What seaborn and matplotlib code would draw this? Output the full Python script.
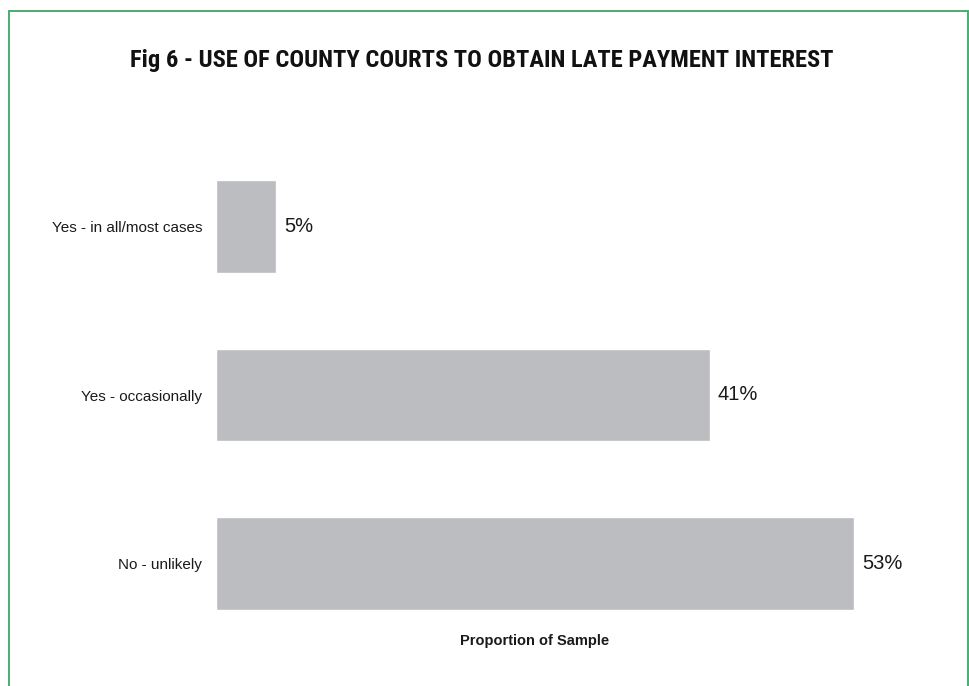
import matplotlib
matplotlib.use("Agg")
import matplotlib.pyplot as plt
from matplotlib.patches import Rectangle
from matplotlib import font_manager
import seaborn as sns
import pandas as pd

categories = ["Yes - in all/most cases", "Yes - occasionally", "No - unlikely"]
values = [5, 41, 53]
value_labels = ["5%", "41%", "53%"]

title = "Fig 6 - USE OF COUNTY COURTS TO OBTAIN LATE PAYMENT INTEREST"
x_label = "Proportion of Sample"

sns.set_theme(style="white")
plt.rcParams["font.family"] = ["Liberation Sans", "DejaVu Sans"]

names = {f.name for f in font_manager.fontManager.ttflist}
title_family = "Liberation Sans"
for cand in ["Roboto Condensed", "Liberation Sans Narrow", "Open Sans Condensed", "Roboto"]:
    if cand in names:
        title_family = cand
        break

df = pd.DataFrame({"category": categories, "value": values})

W, H = 970, 686
fig = plt.figure(figsize=(W / 100, H / 100), dpi=100)
ax = fig.add_axes([216 / W, 1 - 620 / H, (854 - 216) / W, (620 - 170) / H])

sns.barplot(data=df, x="value", y="category", orient="h", color="#bcbdc1",
            saturation=1, width=0.55, ax=ax)

ax.set_xlim(0, 53)
ax.set_ylim(2.335, -0.335)
ax.set_xticks([])
ax.tick_params(axis="y", length=0, pad=10, labelsize=11, labelcolor="#1a1a1a")
ax.set_ylabel("")
ax.set_xlabel(x_label, fontsize=10.5, fontweight="bold", color="#1a1a1a", labelpad=10)
for s in ax.spines.values():
    s.set_visible(False)

ax.bar_label(ax.containers[0], labels=value_labels, padding=6, fontsize=14.5, color="#1a1a1a")

# title sized so that it spans the heading band width
t = fig.text(481.5 / W, 1 - 60 / H, title, ha="center", va="center", fontsize=20,
             fontweight="bold", family=[title_family, "DejaVu Sans"], color="#111111")
fig.canvas.draw()
w = t.get_window_extent(fig.canvas.get_renderer()).width
t.set_fontsize(20 * 703 / w)

border = Rectangle((9.5 / W, -0.05), (968 - 9.5) / W, 1.05 - 10.5 / H,
                   transform=fig.transFigure, fill=False, edgecolor="#3aa864",
                   linewidth=1.3, clip_on=False)
fig.patches.append(border)

fig.savefig("out.png", dpi=100)
